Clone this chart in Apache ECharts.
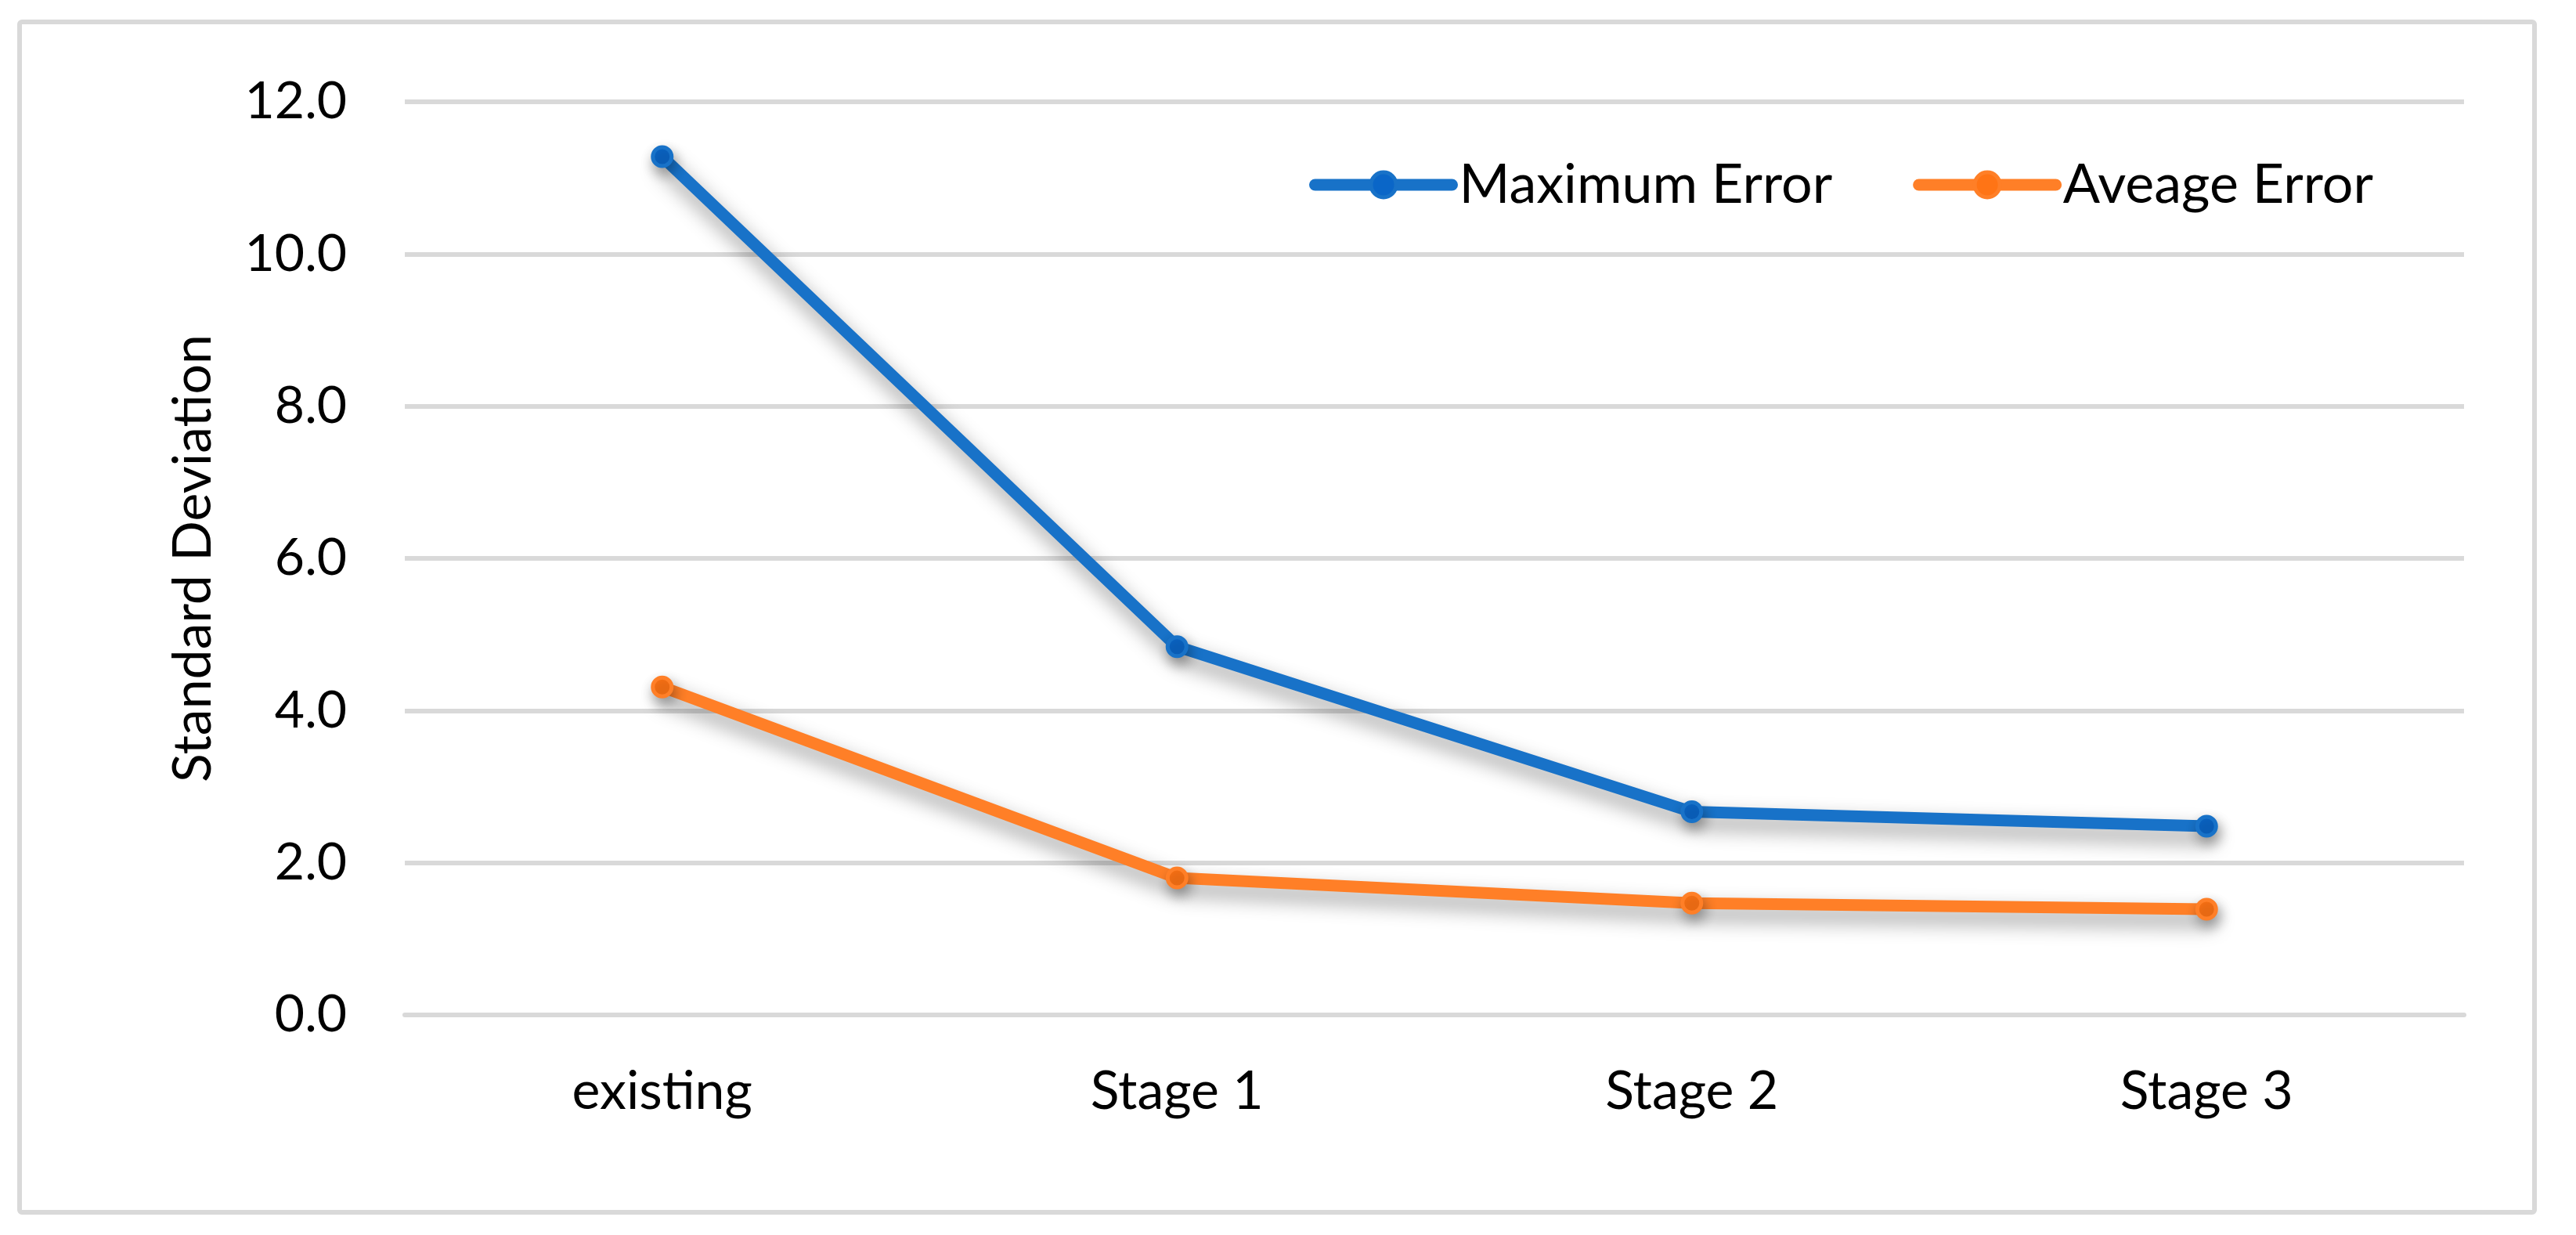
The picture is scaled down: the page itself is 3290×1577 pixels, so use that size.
<!DOCTYPE html>
<html>
<head>
<meta charset="utf-8">
<script src="https://cdn.jsdelivr.net/npm/echarts@6/dist/echarts.min.js"></script>
<style>
html,body{margin:0;padding:0;background:#fff;}
#chart{width:3290px;height:1577px;}
</style>
</head>
<body>
<div id="chart"></div>
<script>
const categories = ['existing', 'Stage 1', 'Stage 2', 'Stage 3'];
const maxError = [11.28, 4.84, 2.67, 2.48];
const avgError = [4.31, 1.80, 1.47, 1.39];
const seriesNames = ['Maximum Error', 'Aveage Error'];
const yTicks = { min: 0, max: 12, interval: 2 };
const yTitle = 'Standard Deviation';

const FONT = 'Lato, "Open Sans", sans-serif';
const blue = '#1872C8', blueFill = '#0A66C8';
const orange = '#FF7F27', orangeFill = '#FF7415';

function mkSeries(name, data, color, fill) {
  return {
    name: name,
    type: 'line',
    data: data,
    symbol: 'circle',
    symbolSize: 24,
    showSymbol: true,
    lineStyle: {
      color: color, width: 15, cap: 'round', join: 'round',
      shadowColor: 'rgba(0,0,0,0.42)', shadowBlur: 26, shadowOffsetX: 4, shadowOffsetY: 13
    },
    itemStyle: {
      color: fill, borderColor: color, borderWidth: 5,
      shadowColor: 'rgba(0,0,0,0.3)', shadowBlur: 16, shadowOffsetX: 3, shadowOffsetY: 8
    },
    emphasis: { disabled: true },
    animation: false
  };
}

const chart = echarts.init(document.getElementById('chart'));
chart.setOption({
  backgroundColor: '#ffffff',
  animation: false,
  graphic: [{
    type: 'rect',
    shape: { x: 25, y: 28, width: 3212, height: 1520, r: 3 },
    style: { fill: 'none', stroke: '#D9D9D9', lineWidth: 6 },
    silent: true
  }],
  grid: { left: 517, right: 3290 - 3147, top: 130, bottom: 1577 - 1296, containLabel: false },
  legend: {
    data: seriesNames,
    left: 1667,
    top: 196,
    itemWidth: 175,
    itemHeight: 40,
    itemGap: 103,
    lineStyle: { width: 15, shadowBlur: 0, shadowOffsetX: 0, shadowOffsetY: 0, shadowColor: 'transparent' },
    itemStyle: { borderWidth: 5, shadowBlur: 0, shadowOffsetX: 0, shadowOffsetY: 0, shadowColor: 'transparent' },
    textStyle: { fontFamily: FONT, fontSize: 70, color: '#000', lineHeight: 70, padding: [0, 0, 0, 4] },
    selectedMode: false
  },
  xAxis: {
    type: 'category',
    data: categories,
    boundaryGap: true,
    axisLine: { show: true, lineStyle: { color: '#D9D9D9', width: 6 } },
    axisTick: { show: false },
    axisLabel: { fontFamily: FONT, fontSize: 68, color: '#000', margin: 64 },
    splitLine: { show: false }
  },
  yAxis: {
    type: 'value',
    min: yTicks.min,
    max: yTicks.max,
    interval: yTicks.interval,
    name: yTitle,
    nameLocation: 'middle',
    nameRotate: 90,
    nameGap: 236,
    nameTextStyle: { fontFamily: FONT, fontSize: 68, color: '#000' },
    axisLine: { show: false },
    axisTick: { show: false },
    axisLabel: {
      fontFamily: FONT, fontSize: 66, color: '#000', margin: 74,
      formatter: v => v.toFixed(1)
    },
    splitLine: { show: true, lineStyle: { color: '#D9D9D9', width: 6 } }
  },
  series: [
    mkSeries(seriesNames[0], maxError, blue, blueFill),
    mkSeries(seriesNames[1], avgError, orange, orangeFill)
  ]
});
</script>
</body>
</html>
